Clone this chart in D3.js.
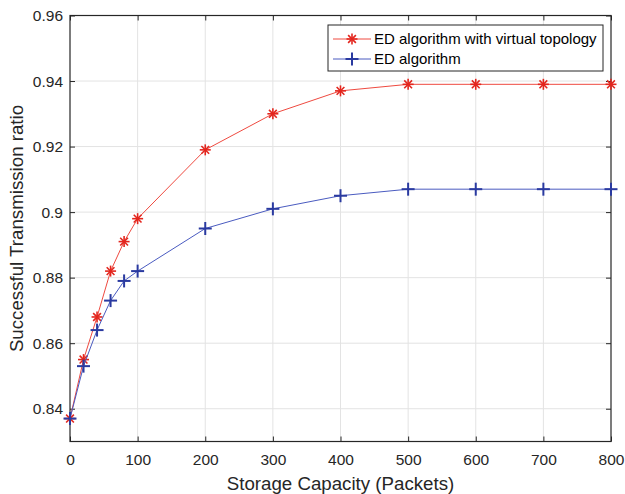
<!DOCTYPE html>
<html>
<head>
<meta charset="utf-8">
<script src="https://cdn.jsdelivr.net/npm/d3@7"></script>
<style>
  body { margin: 0; background: #fff; }
  svg { font-family: "Liberation Sans", Arial, sans-serif; }
</style>
</head>
<body>
<svg id="chart" width="625" height="494"></svg>
<script>
// storage capacity (packets)
const capacity = [0, 20, 40, 60, 80, 100, 200, 300, 400, 500, 600, 700, 800];
// successful transmission ratio
const edVirtual = [0.837, 0.855, 0.868, 0.882, 0.891, 0.898, 0.919, 0.930, 0.937, 0.939, 0.939, 0.939, 0.939];
const edPlain = [0.837, 0.853, 0.864, 0.873, 0.879, 0.882, 0.895, 0.901, 0.905, 0.907, 0.907, 0.907, 0.907];
const xTicks = [0, 100, 200, 300, 400, 500, 600, 700, 800];
const yTicks = [0.84, 0.86, 0.88, 0.9, 0.92, 0.94, 0.96];
const seriesNames = ['ED algorithm with virtual topology', 'ED algorithm'];

const svg = d3.select('#chart');
const pLeft = 70, pRight = 611, pTop = 15.5, pBottom = 441.5;

const x = d3.scaleLinear().domain([0, 800]).range([pLeft, pRight]);
const y = d3.scaleLinear().domain([0.83, 0.96]).range([pBottom, pTop]);

// grid
svg.append('g').selectAll('line').data(xTicks.slice(1, -1)).join('line')
    .attr('x1', d => x(d)).attr('x2', d => x(d))
    .attr('y1', pTop).attr('y2', pBottom)
    .attr('stroke', '#e3e3e3').attr('stroke-width', 1);
svg.append('g').selectAll('line').data(yTicks.slice(0, -1)).join('line')
    .attr('x1', pLeft).attr('x2', pRight)
    .attr('y1', d => y(d)).attr('y2', d => y(d))
    .attr('stroke', '#e3e3e3').attr('stroke-width', 1);

// axes with inward ticks
const fmtY = d => d3.format('.2f')(d).replace(/0$/, '').replace(/\.$/, '');
const axisStyle = g => {
    g.select('.domain').remove();
    g.selectAll('line').attr('stroke', '#262626');
    g.selectAll('text').attr('fill', '#262626').attr('font-size', 15.5);
};
svg.append('g').attr('transform', `translate(0,${pBottom})`)
    .call(d3.axisBottom(x).tickValues(xTicks).tickSize(-5).tickPadding(12))
    .call(axisStyle).attr('font-family', null);
svg.append('g').attr('transform', `translate(0,${pTop})`)
    .call(d3.axisTop(x).tickValues(xTicks).tickSize(-5).tickFormat(''))
    .call(axisStyle);
svg.append('g').attr('transform', `translate(${pLeft},0)`)
    .call(d3.axisLeft(y).tickValues(yTicks).tickSize(-5).tickPadding(7).tickFormat(fmtY))
    .call(axisStyle).attr('font-family', null);
svg.append('g').attr('transform', `translate(${pRight},0)`)
    .call(d3.axisRight(y).tickValues(yTicks).tickSize(-5).tickFormat(''))
    .call(axisStyle);

svg.append('rect')
    .attr('x', pLeft).attr('y', pTop)
    .attr('width', pRight - pLeft).attr('height', pBottom - pTop)
    .attr('fill', 'none').attr('stroke', '#262626').attr('stroke-width', 1.2);

// lines
const line = d3.line().x(d => x(d[0])).y(d => y(d[1]));
const redLine = '#ef4a40', redMark = '#e3261e';
const blueLine = '#4a5bc0', blueMark = '#2a3aa0';

function star(g, cx, cy, color) {
    const r = 5.5;
    [0, 45, 90, 135].forEach(a => {
        const rad = a * Math.PI / 180;
        g.append('line')
            .attr('x1', cx - r * Math.cos(rad)).attr('y1', cy - r * Math.sin(rad))
            .attr('x2', cx + r * Math.cos(rad)).attr('y2', cy + r * Math.sin(rad))
            .attr('stroke', color).attr('stroke-width', 1.6);
    });
}
function plus(g, cx, cy, color) {
    const r = 6.5;
    g.append('line').attr('x1', cx - r).attr('x2', cx + r).attr('y1', cy).attr('y2', cy)
        .attr('stroke', color).attr('stroke-width', 2);
    g.append('line').attr('x1', cx).attr('x2', cx).attr('y1', cy - r).attr('y2', cy + r)
        .attr('stroke', color).attr('stroke-width', 2);
}

const redData = capacity.map((c, i) => [c, edVirtual[i]]);
const blueData = capacity.map((c, i) => [c, edPlain[i]]);

svg.append('path').datum(redData).attr('d', line)
    .attr('fill', 'none').attr('stroke', redLine).attr('stroke-width', 1);
const gr = svg.append('g');
redData.forEach(d => star(gr, x(d[0]), y(d[1]), redMark));

svg.append('path').datum(blueData).attr('d', line)
    .attr('fill', 'none').attr('stroke', blueLine).attr('stroke-width', 1);
const gb = svg.append('g');
blueData.forEach(d => plus(gb, x(d[0]), y(d[1]), blueMark));

// legend
const lg = svg.append('g');
lg.append('rect').attr('x', 328).attr('y', 25).attr('width', 275).attr('height', 46)
    .attr('fill', '#fff').attr('stroke', '#262626').attr('stroke-width', 1);
[[redLine, redMark, star], [blueLine, blueMark, plus]].forEach((s, i) => {
    const ly = 39 + i * 20;
    lg.append('line').attr('x1', 333).attr('x2', 371).attr('y1', ly).attr('y2', ly)
        .attr('stroke', s[0]).attr('stroke-width', 1);
    s[2](lg, 352, ly, s[1]);
    lg.append('text').attr('x', 374).attr('y', ly + 5)
        .attr('font-size', 15).attr('fill', '#000').text(seriesNames[i]);
});

// axis labels
svg.append('text').attr('x', (pLeft + pRight) / 2).attr('y', 490)
    .attr('text-anchor', 'middle').attr('font-size', 18.7).attr('fill', '#262626')
    .text('Storage Capacity (Packets)');
svg.append('text').attr('transform', `translate(23,${(pTop + pBottom) / 2}) rotate(-90)`)
    .attr('text-anchor', 'middle').attr('font-size', 18.7).attr('fill', '#262626')
    .text('Successful Transmission ratio');
</script>
</body>
</html>
